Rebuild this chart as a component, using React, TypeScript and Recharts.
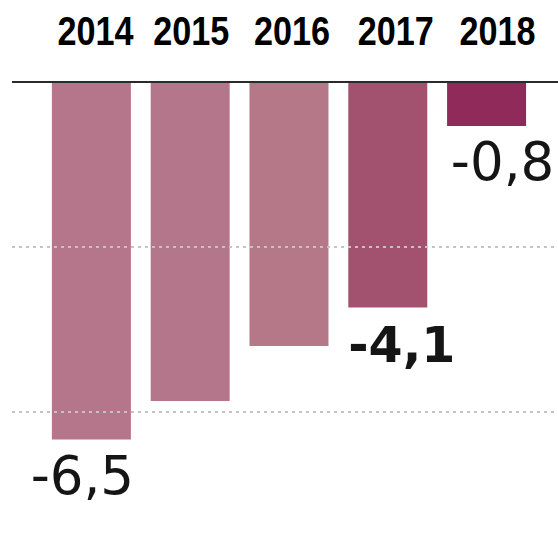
import { BarChart, Bar, XAxis, YAxis, Cell, ReferenceLine, LabelList } from 'recharts';

const years = ['2014', '2015', '2016', '2017', '2018'];
const deficit = [-6.5, -5.8, -4.8, -4.1, -0.8];
const shownLabels = [true, false, false, true, true];
const barColors = ['#b5758a', '#b3768a', '#b47889', '#a2526f', '#8f2a5a'];
const gridValues = [-3, -6];

const data = years.map((year, i) => ({ year, value: deficit[i] }));

const YearTick = (props: any) => {
  const { x, payload, index } = props;
  const shift = [4, 1, 3, 8, 11][index] ?? 0;
  return (
    <text
      x={x + shift}
      y={45}
      textAnchor="middle"
      fontFamily="'Liberation Sans', Arial, sans-serif"
      fontWeight="bold"
      fontSize={40}
      fill="#000"
      textLength={76}
      lengthAdjust="spacingAndGlyphs"
    >
      {payload.value}
    </text>
  );
};

const ValueLabel = (props: any) => {
  const { x, y, width, height, index, value } = props;
  if (!shownLabels[index]) return null;
  const bottom = Math.max(y, y + height);
  const shift = [-9, 0, 0, 14, 16][index];
  return (
    <text
      x={x + width / 2 + shift}
      y={bottom + 54}
      textAnchor="middle"
      fontFamily="'DejaVu Sans', Verdana, sans-serif"
      fontWeight={index === 3 ? 'bold' : 'normal'}
      fontSize={index === 3 ? 49 : 53}
      fill="#151515"
    >
      {String(value).replace('.', ',')}
    </text>
  );
};

export default function App() {
  return (
    <div style={{ position: 'absolute', left: 0, top: 0, background: '#fff' }}>
      <BarChart
        width={558}
        height={555}
        data={data}
        margin={{ top: 0, right: 0, bottom: 33, left: 12 }}
        barCategoryGap="10%"
      >
        <XAxis
          dataKey="year"
          orientation="top"
          height={82}
          padding={{ left: 30, right: 22 }}
          axisLine={{ stroke: '#2a2a2a', strokeWidth: 2 }}
          tickLine={false}
          tick={<YearTick />}
          interval={0}
        />
        <YAxis hide domain={[-8, 0]} />
        {gridValues.map((v) => (
          <ReferenceLine key={v} y={v} stroke="#c4c4c4" strokeWidth={2} strokeDasharray="3 4" />
        ))}
        <Bar dataKey="value" isAnimationActive={false}>
          {data.map((d, i) => (
            <Cell key={d.year} fill={barColors[i]} />
          ))}
          <LabelList dataKey="value" content={<ValueLabel />} />
        </Bar>
      </BarChart>
    </div>
  );
}
